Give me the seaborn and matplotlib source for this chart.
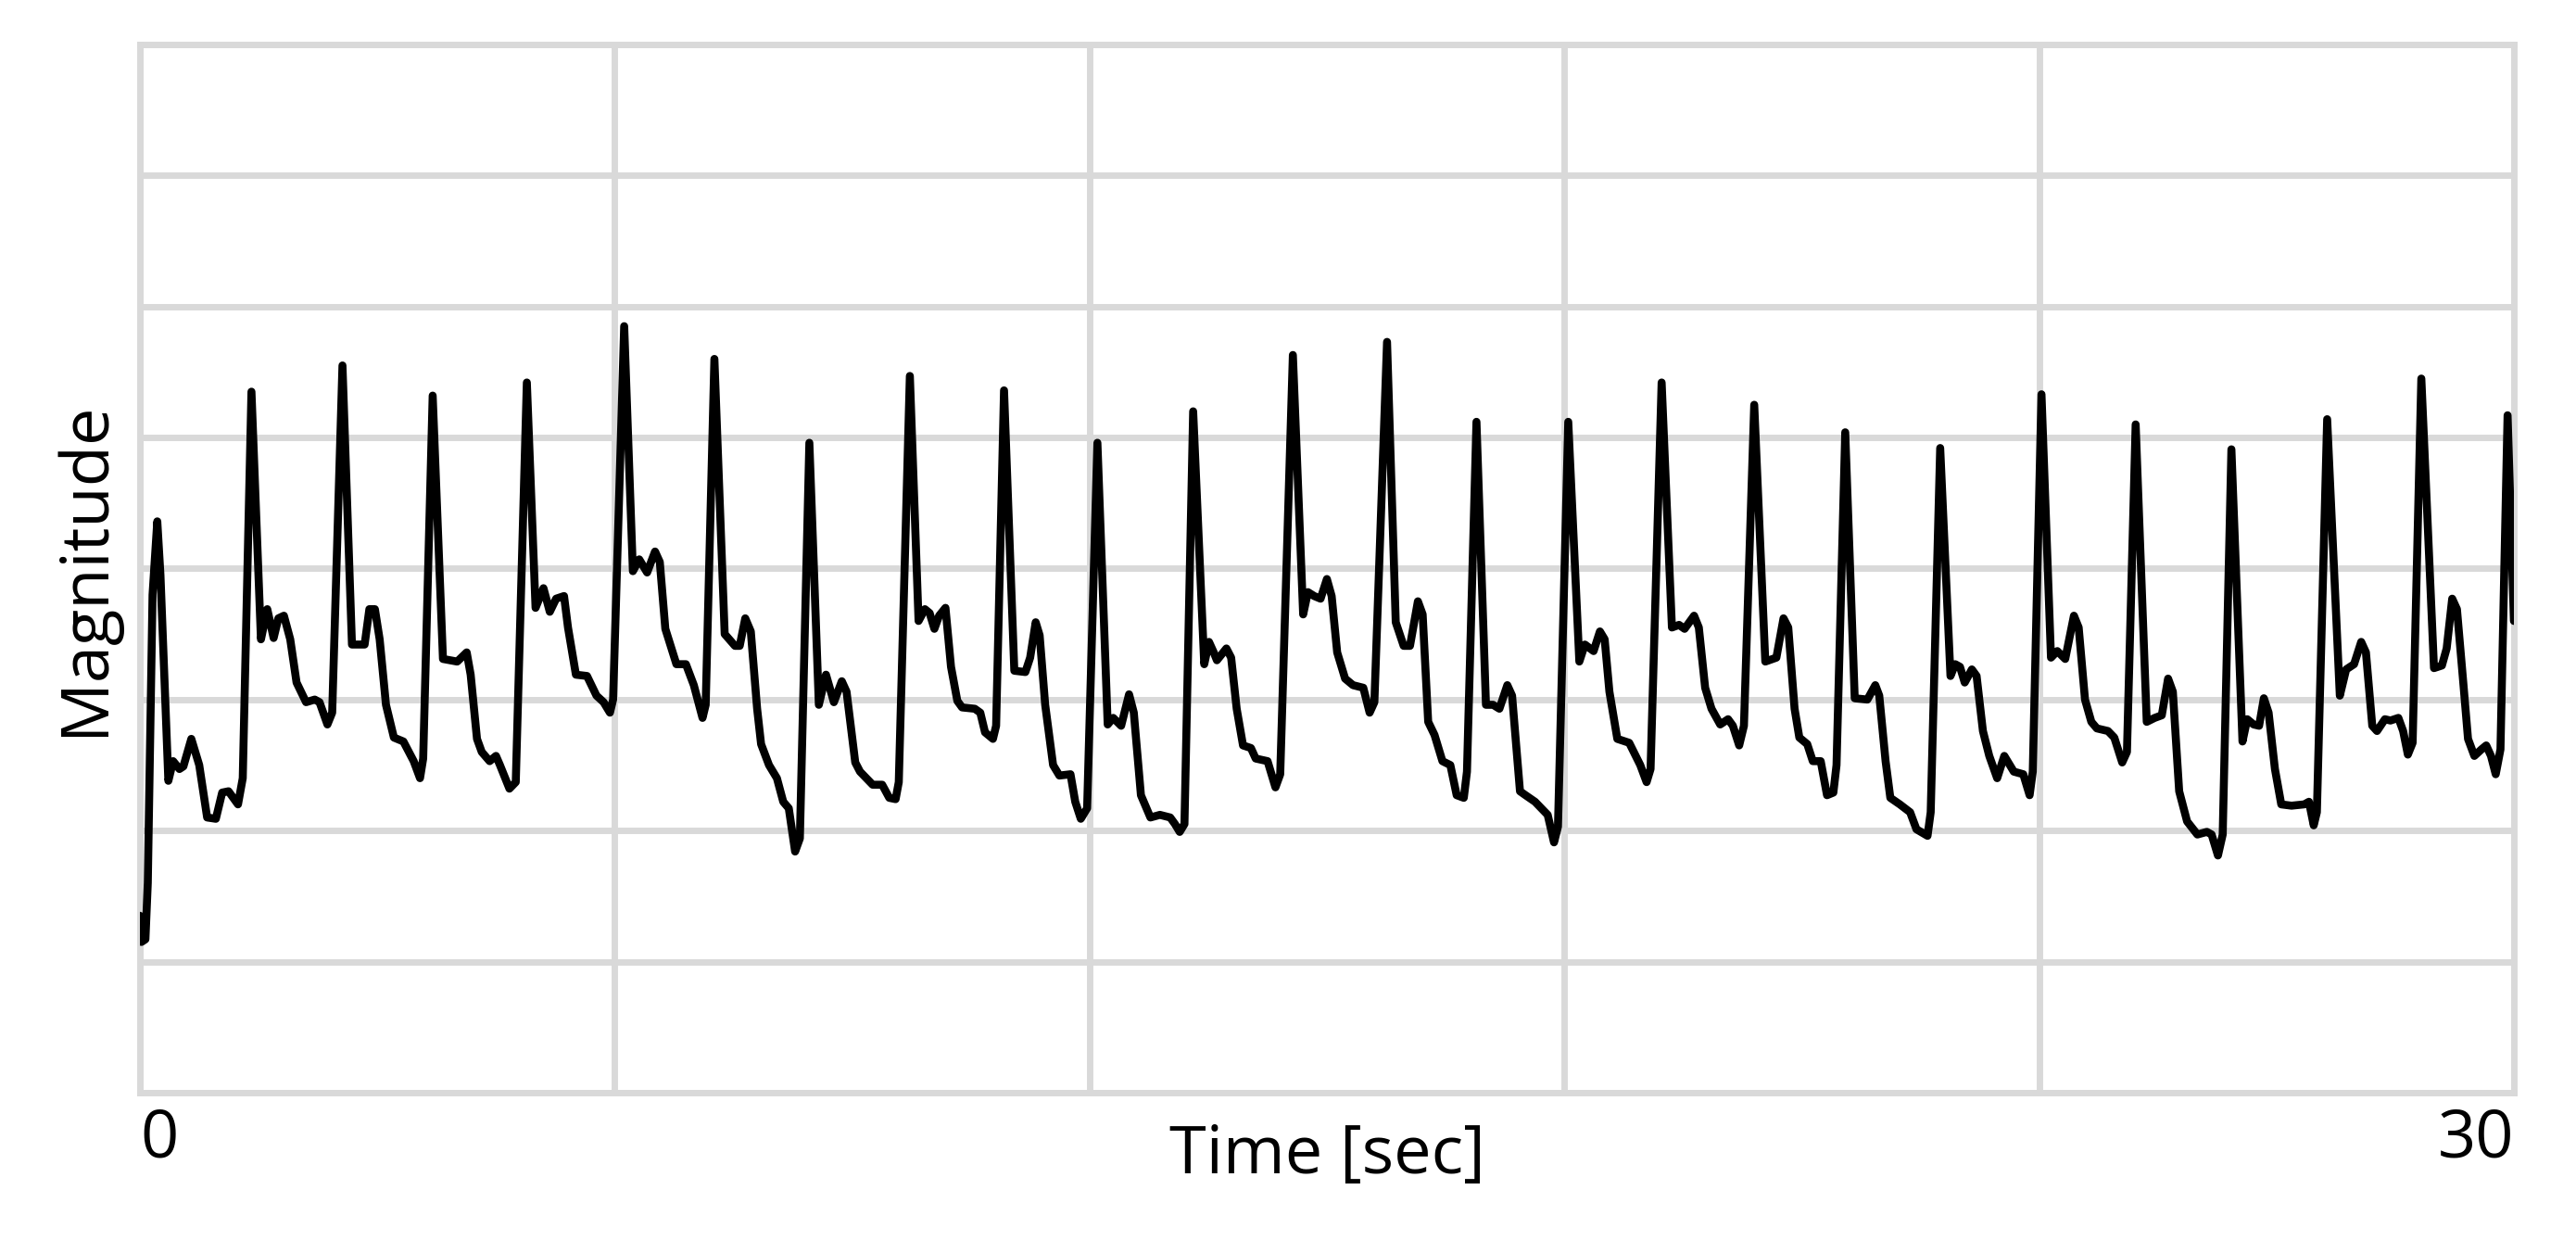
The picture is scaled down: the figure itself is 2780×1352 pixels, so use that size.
import matplotlib
matplotlib.use('Agg')
import matplotlib.pyplot as plt
import pandas as pd
import seaborn as sns

# ── Data: trace vertices, one beat per row ──
# time in seconds, magnitude in grid units (0 = bottom edge, 8 = top edge)
time_s = [
    0.00, 0.02, 0.07, 0.10, 0.16, 0.22, 0.26, 0.36, 0.42, 0.50, 0.55, 0.65, 0.75, 0.85, 0.96, 1.04, 1.12, 1.24, 1.30,
    1.41, 1.53, 1.61, 1.69, 1.75, 1.82, 1.90, 1.98, 2.10, 2.21, 2.27, 2.37, 2.43,
    2.56, 2.68, 2.84, 2.90, 2.97, 3.03, 3.11, 3.21, 3.33, 3.46, 3.54, 3.58,
    3.70, 3.83, 4.01, 4.13, 4.18, 4.26, 4.32, 4.42, 4.50, 4.55, 4.67, 4.75,
    4.89, 5.00, 5.10, 5.18, 5.26, 5.36, 5.41, 5.51, 5.65, 5.77, 5.86, 5.94, 5.98,
    6.12, 6.23, 6.31, 6.41, 6.51, 6.57, 6.64, 6.78, 6.90, 7.00, 7.11, 7.15,
    7.26, 7.39, 7.52, 7.58, 7.65, 7.72, 7.80, 7.85, 7.95, 8.05, 8.13, 8.20, 8.28, 8.34,
    8.46, 8.58, 8.67, 8.77, 8.87, 8.93, 9.04, 9.10, 9.26, 9.38, 9.47, 9.55, 9.59,
    9.73, 9.84, 9.92, 9.98, 10.04, 10.10, 10.18, 10.25, 10.33, 10.39, 10.55, 10.62, 10.68, 10.78, 10.82,
    10.92, 11.05, 11.19, 11.25, 11.32, 11.37, 11.44, 11.54, 11.62, 11.76, 11.82, 11.89, 11.97,
    12.10, 12.23, 12.30, 12.40, 12.50, 12.56, 12.65, 12.77, 12.89, 13.02, 13.08, 13.14, 13.20,
    13.31, 13.45, 13.51, 13.57, 13.61, 13.73, 13.79, 13.86, 13.94, 14.04, 14.10, 14.25, 14.35, 14.41,
    14.57, 14.70, 14.76, 14.84, 14.92, 15.00, 15.06, 15.13, 15.23, 15.33, 15.46, 15.54, 15.60,
    15.76, 15.87, 15.97, 16.05, 16.15, 16.21, 16.28, 16.36, 16.46, 16.56, 16.64, 16.73, 16.77,
    16.89, 17.01, 17.10, 17.18, 17.28, 17.34, 17.44, 17.51, 17.63, 17.79, 17.87, 17.92,
    18.05, 18.19, 18.26, 18.37, 18.45, 18.51, 18.57, 18.67, 18.82, 18.96, 19.04, 19.09,
    19.23, 19.36, 19.45, 19.52, 19.64, 19.70, 19.78, 19.86, 19.97, 20.07, 20.13, 20.21, 20.27,
    20.40, 20.54, 20.68, 20.77, 20.83, 20.91, 20.97, 21.07, 21.14, 21.24, 21.32, 21.40, 21.44,
    21.55, 21.67, 21.83, 21.93, 21.98, 22.06, 22.12, 22.24, 22.37, 22.45, 22.59, 22.63,
    22.75, 22.88, 22.94, 23.00, 23.06, 23.15, 23.21, 23.29, 23.37, 23.47, 23.56, 23.68, 23.80, 23.88, 23.92,
    24.03, 24.15, 24.23, 24.33, 24.44, 24.50, 24.58, 24.66, 24.73, 24.87, 24.95, 25.05, 25.11,
    25.22, 25.36, 25.46, 25.55, 25.63, 25.69, 25.77, 25.87, 26.00, 26.12, 26.18, 26.26, 26.32,
    26.43, 26.57, 26.63, 26.71, 26.78, 26.84, 26.90, 26.98, 27.06, 27.19, 27.35, 27.41, 27.47, 27.51,
    27.64, 27.80, 27.88, 27.98, 28.07, 28.13, 28.21, 28.27, 28.37, 28.44, 28.54, 28.60, 28.66, 28.72,
    28.83, 28.99, 29.09, 29.15, 29.22, 29.28, 29.36, 29.42, 29.50, 29.59, 29.65, 29.71, 29.77, 29.83,
    29.92, 30.00,
]
magnitude = [
    1.35, 1.15, 1.17, 1.60, 3.80, 4.36, 3.95, 2.38, 2.53, 2.47, 2.49, 2.70, 2.50, 2.10, 2.09, 2.29, 2.30, 2.20, 2.40,
    5.35, 3.46, 3.69, 3.47, 3.62, 3.64, 3.46, 3.13, 2.98, 3.00, 2.98, 2.81, 2.90,
    5.55, 3.42, 3.42, 3.69, 3.69, 3.46, 2.96, 2.71, 2.68, 2.53, 2.40, 2.55,
    5.32, 3.31, 3.29, 3.36, 3.19, 2.70, 2.60, 2.53, 2.57, 2.50, 2.32, 2.37,
    5.42, 3.70, 3.85, 3.67, 3.77, 3.79, 3.55, 3.19, 3.18, 3.03, 2.98, 2.90, 3.00,
    5.85, 3.98, 4.07, 3.97, 4.13, 4.05, 3.54, 3.27, 3.27, 3.11, 2.86, 2.96,
    5.60, 3.50, 3.41, 3.41, 3.62, 3.52, 2.93, 2.66, 2.50, 2.40, 2.22, 2.17, 1.84, 1.94,
    4.96, 2.96, 3.19, 2.98, 3.14, 3.06, 2.52, 2.45, 2.35, 2.35, 2.25, 2.24, 2.37,
    5.47, 3.60, 3.69, 3.66, 3.54, 3.64, 3.70, 3.25, 2.99, 2.94, 2.93, 2.90, 2.75, 2.70, 2.80,
    5.36, 3.22, 3.21, 3.32, 3.59, 3.49, 2.96, 2.50, 2.42, 2.43, 2.22, 2.09, 2.17,
    4.96, 2.81, 2.86, 2.80, 3.04, 2.90, 2.27, 2.10, 2.12, 2.10, 2.05, 1.99, 2.05,
    5.20, 3.27, 3.44, 3.36, 3.30, 3.39, 3.32, 2.93, 2.65, 2.63, 2.55, 2.53, 2.33, 2.43,
    5.63, 3.65, 3.82, 3.79, 3.77, 3.92, 3.79, 3.36, 3.16, 3.11, 3.09, 2.90, 2.98,
    5.73, 3.59, 3.41, 3.41, 3.75, 3.65, 2.83, 2.73, 2.53, 2.50, 2.27, 2.25, 2.45,
    5.12, 2.96, 2.96, 2.93, 3.11, 3.03, 2.30, 2.27, 2.22, 2.12, 1.91, 2.03,
    5.12, 3.29, 3.42, 3.37, 3.52, 3.46, 3.06, 2.70, 2.67, 2.50, 2.37, 2.47,
    5.42, 3.55, 3.57, 3.54, 3.64, 3.55, 3.09, 2.93, 2.81, 2.85, 2.80, 2.65, 2.80,
    5.25, 3.29, 3.32, 3.62, 3.55, 2.93, 2.71, 2.66, 2.53, 2.53, 2.27, 2.29, 2.50,
    5.04, 3.01, 3.00, 3.11, 3.03, 2.53, 2.25, 2.20, 2.14, 2.01, 1.96, 2.14,
    4.92, 3.18, 3.27, 3.25, 3.13, 3.23, 3.18, 2.76, 2.57, 2.40, 2.57, 2.45, 2.43, 2.27, 2.45,
    5.33, 3.32, 3.37, 3.31, 3.64, 3.55, 3.00, 2.83, 2.78, 2.76, 2.71, 2.52, 2.60,
    5.10, 2.83, 2.86, 2.88, 3.16, 3.06, 2.30, 2.07, 1.97, 1.99, 1.97, 1.81, 1.97,
    4.91, 2.68, 2.85, 2.81, 2.80, 3.01, 2.90, 2.47, 2.20, 2.19, 2.20, 2.22, 2.04, 2.14,
    5.14, 3.03, 3.23, 3.27, 3.44, 3.36, 2.80, 2.76, 2.85, 2.84, 2.86, 2.76, 2.58, 2.67,
    5.45, 3.24, 3.26, 3.39, 3.77, 3.69, 3.13, 2.70, 2.57, 2.62, 2.65, 2.57, 2.43, 2.62,
    5.17, 3.60,
]

x_ticks = [0, 6, 12, 18, 24, 30]
x_tick_labels = ['0', '', '', '', '', '30']
y_ticks = [0, 1, 2, 3, 4, 5, 6, 7, 8]

GRID = '#d9d9d9'
GRID_LW = 5.0
TRACE_LW = 6.2

# ── Style ────────────────────────────────────────────────────
sns.set_theme(style='whitegrid', rc={
    'grid.color': GRID,
    'grid.linewidth': GRID_LW,
    'axes.edgecolor': GRID,
    'lines.linewidth': TRACE_LW,
})
plt.rcParams['font.family'] = ['Open Sans', 'DejaVu Sans']

df = pd.DataFrame({'Time': time_s, 'Magnitude': magnitude})

fig = plt.figure(figsize=(27.8, 13.52), dpi=100)
ax = fig.add_axes([0.0543, 0.128, 0.9216, 0.8365])

sns.lineplot(data=df, x='Time', y='Magnitude', ax=ax, color='black',
             sort=False, estimator=None, zorder=3)
for ln in ax.lines:
    ln.set_linewidth(TRACE_LW)
    ln.set_solid_joinstyle('round')
    ln.set_solid_capstyle('round')

ax.set_xlim(0, 30)
ax.set_ylim(0, 8)
ax.set_xticks(x_ticks)
ax.set_xticklabels(x_tick_labels, fontsize=52, color='black')
ticklabs = ax.get_xticklabels()
ticklabs[0].set_ha('left')
ticklabs[-1].set_ha('right')
ax.set_yticks(y_ticks)
ax.set_yticklabels([])
ax.tick_params(axis='both', length=0)
ax.tick_params(axis='x', pad=11)
ax.grid(True, color=GRID, linewidth=GRID_LW)

for sp in ax.spines.values():
    sp.set_visible(True)
    sp.set_color(GRID)
    sp.set_linewidth(GRID_LW)

ax.set_xlabel('Time [sec]', fontsize=52, color='black')
ax.set_ylabel('Magnitude', fontsize=52, color='black')
ax.xaxis.set_label_coords(0.5, -0.029)
ax.yaxis.set_label_coords(-0.009, 0.5)

fig.savefig('out.png', dpi=100, facecolor='white')
plt.close(fig)
